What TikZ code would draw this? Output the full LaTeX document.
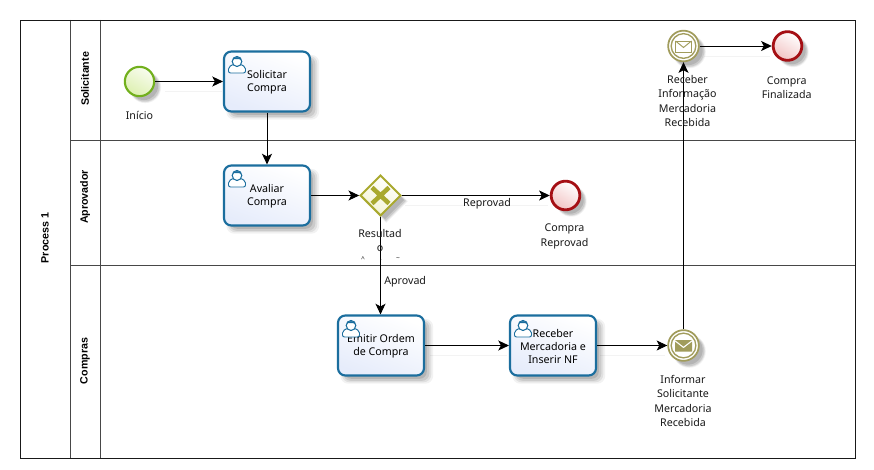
\documentclass[tikz,border=0pt]{standalone}
\usepackage{fontspec}
\setmainfont{Noto Sans}
\newfontfamily\headfont{Liberation Sans}
\usetikzlibrary{arrows.meta,shapes.geometric,shadows}
\definecolor{taskb}{HTML}{1B6E9E}
\definecolor{taskf}{HTML}{E6ECFB}
\definecolor{startb}{HTML}{72B01D}
\definecolor{startf}{HTML}{DDF0B0}
\definecolor{endb}{HTML}{A50F14}
\definecolor{endf}{HTML}{F2C4C4}
\definecolor{gateb}{HTML}{A9A92E}
\definecolor{gatef}{HTML}{F3F3D2}
\definecolor{evb}{HTML}{A19C5C}
\definecolor{ghost}{HTML}{F3F3F3}
\tikzset{
  x=0.75pt,y=-0.75pt,
  softshadow/.style={
    general shadow={fill=black,opacity=.05,shadow xshift=4pt,shadow yshift=-4pt,shadow scale=1.08},
    general shadow={fill=black,opacity=.07,shadow xshift=4pt,shadow yshift=-4pt,shadow scale=1.04},
    general shadow={fill=black,opacity=.09,shadow xshift=4pt,shadow yshift=-4pt,shadow scale=1.0},
    general shadow={fill=black,opacity=.11,shadow xshift=3.5pt,shadow yshift=-3.5pt,shadow scale=.96}},
  lane/.style={draw=black!72,line width=0.6pt},
  pool/.style={draw=black!90,line width=0.7pt},
  lanetext/.style={font=\fontsize{8}{9}\headfont\bfseries\selectfont,rotate=90,inner sep=0pt},
  lbl/.style={font=\fontsize{8}{10.9}\selectfont,align=center,inner sep=0pt,text=black!90},
  taskbox/.style={rectangle,rounded corners=5.5pt,draw=taskb,line width=1.6pt,
    top color=white,bottom color=taskf,shading angle=-20,
    minimum width=64.5pt,minimum height=45pt,inner sep=0pt,align=center,
    font=\fontsize{8}{10.9}\selectfont,softshadow},
  startev/.style={circle,draw=startb,line width=1.6pt,top color=white!80!startf,bottom color=startf,
    shading angle=-30,minimum size=22pt,inner sep=0pt,softshadow},
  endev/.style={circle,draw=endb,line width=2.1pt,top color=white,bottom color=endf,
    shading angle=-30,minimum size=21.5pt,inner sep=0pt,softshadow},
  gate/.style={diamond,aspect=1,draw=gateb,line width=1.5pt,top color=white,bottom color=gatef,
    shading angle=-30,minimum size=30.5pt,inner sep=0pt,softshadow},
  msgev/.style={circle,draw=evb,line width=1.3pt,fill=white,minimum size=23pt,inner sep=0pt,softshadow},
  flow/.style={draw=black,line width=0.72pt,-{Stealth[length=8pt,width=7.5pt,inset=2pt]}},
  flowghost/.style={draw=ghost,line width=0.7pt},
  usericon/.pic={
    \draw[taskb,line width=0.7pt,fill=white,rounded corners=1.5pt] (-8.5,16) -- (-8.5,10) -- (-3,7) -- (3,7) -- (8.5,10) -- (8.5,16) -- cycle;
    \draw[taskb,line width=0.8pt,fill=white] (0,4.5) ellipse (4.8 and 5);
    \fill[taskb] (-4.5,3.5) .. controls (-4,-1) and (4,-1) .. (4.5,3.5) -- (2,2) -- (-3,2.2) -- cycle;
  },
  envopen/.pic={
    \draw[evb,line width=0.7pt,fill=white] (-8,-5.5) rectangle (8,5.5);
    \draw[evb,line width=0.7pt] (-8,-5.5) -- (0,1) -- (8,-5.5);
  },
  envfull/.pic={
    \fill[evb] (-8.5,-5.5) -- (0,1) -- (8.5,-5.5) -- cycle;
    \fill[evb] (-8.5,-3.8) -- (0,2.8) -- (8.5,-3.8) -- (8.5,6) -- (-8.5,6) -- cycle;
  },
}
\begin{document}
\begin{tikzpicture}
\useasboundingbox[fill=white] (0,0) rectangle (874,470);
% pool and lanes
\draw[lane] (70,140) -- (855,140);
\draw[lane] (70,265) -- (855,265);
\draw[lane] (70,20) -- (70,458);
\draw[lane] (100,20) -- (100,458);
\draw[pool] (20,20) rectangle (855,458);
\node[lanetext] (ptitle) at (45,238) {Process 1};
\node[lanetext] (l1) at (85,79) {Solicitante};
\node[lanetext] (l2) at (85,197) {Aprovador};
\node[lanetext] (l3) at (85,361) {Compras};
% connector shadows
\draw[flowghost] (165,91) -- (222,91);
\draw[flowghost] (405,205) -- (548,205);
\draw[flowghost] (704,56) -- (770,56);
\draw[flowghost] (430,355) -- (507,355);
\draw[flowghost] (600,355) -- (665,355);
% nodes
\node[startev] (start) at (139.5,81.5) {};
\node[taskbox] (t1) at (267,81.5) {\strut Solicitar\\[-1pt]Compra};
\node[taskbox] (t2) at (267,195.5) {\strut Avaliar\\[-1pt]Compra};
\node[taskbox] (t3) at (381,345.5) {\strut Emitir Ordem\\[-1pt]de Compra};
\node[taskbox] (t4) at (553,345.5) {\strut Receber\\[-1pt]Mercadoria e\\[-1pt]Inserir NF};
\pic at (237,57) {usericon};
\pic at (237,171) {usericon};
\pic at (351,321) {usericon};
\pic at (523,321) {usericon};
\node[gate] (gw) at (380.5,195.5) {};
\draw[gateb,line width=3.4pt] (372,187.5) -- (389,203.5) (389,187.5) -- (372,203.5);
\node[endev] (e1) at (565.5,195.5) {};
\node[endev] (e2) at (787.5,46) {};
\node[msgev] (m1) at (683.5,46) {};
\node[circle,draw=evb,line width=1pt,minimum size=18.5pt,inner sep=0pt] (m1i) at (683.5,46) {};
\pic at (683.5,46.5) {envopen};
\node[msgev] (m2) at (683.5,345.5) {};
\node[circle,draw=evb,line width=1pt,minimum size=18.5pt,inner sep=0pt] (m2i) at (683.5,345.5) {};
\pic at (683.5,345.5) {envfull};
% connectors
\draw[flow] (start) -- (t1);
\draw[flow] (t1) -- (t2);
\draw[flow] (t2.east) -- (gw.west);
\draw[flow] (gw.east) -- (e1.west);
\draw[flow] (gw.south) -- (gw.south |- t3.north);
\draw[flow] (t3) -- (t4);
\draw[flow] (t4) -- (m2);
\draw[flow] (m2) -- (m1);
\draw[flow] (m1) -- (e2);
% labels
\node[lbl] (a) at (139.5,115) {Início};
\node[lbl] (b) at (380,233.5) {Resultad};
\node[lbl] (c) at (380,249) {o};
\node[lbl] (d1) at (363,259) {\fontsize{5}{5}\selectfont\^{}};
\node[lbl] (d2) at (381,260) {\fontsize{5}{5}\selectfont.};
\node[lbl] (d3) at (398,259) {\fontsize{5}{5}\selectfont\~{}};
\node[lbl,anchor=west] (f) at (384,282) {Aprovad};
\node[lbl] (g) at (487,204) {Reprovad};
\node[lbl] (h) at (564.5,236.5) {Compra\\Reprovad};
\node[lbl] (i) at (687.5,101) {Receber\\Informação\\Mercadoria\\Recebida};
\node[lbl] (j) at (786.7,87.5) {Compra\\Finalizada};
\node[lbl] (k) at (683,401) {Informar\\Solicitante\\Mercadoria\\Recebida};
\end{tikzpicture}
\end{document}
